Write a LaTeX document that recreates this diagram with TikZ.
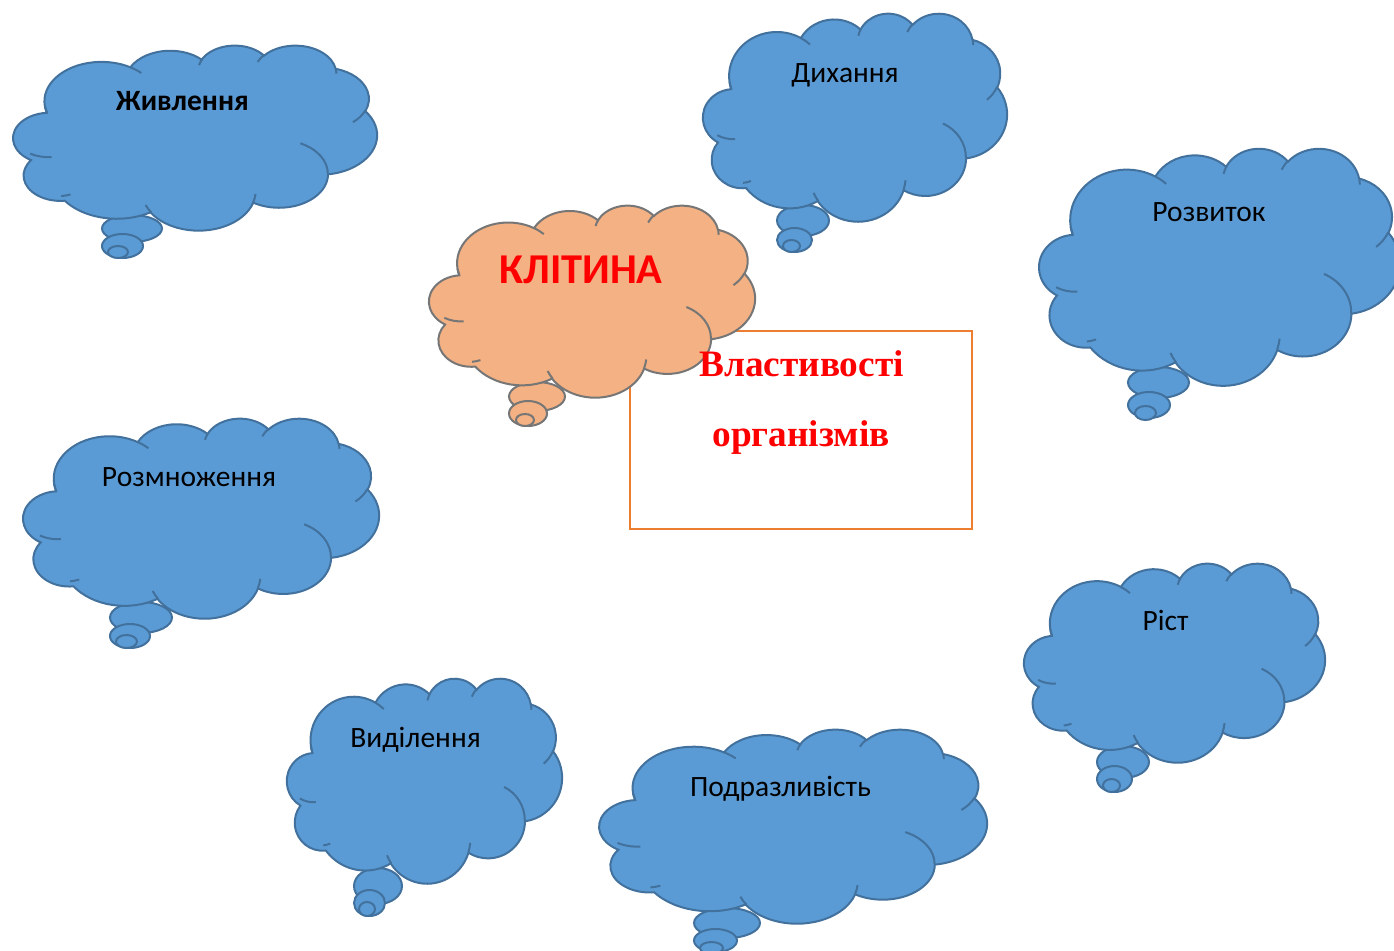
\documentclass[tikz,border=0pt]{standalone}
\usepackage{fontspec}
\setmainfont{Carlito}
\newfontfamily\tnr{Liberation Serif}
\definecolor{cfill}{HTML}{5B9BD5}
\definecolor{cline}{HTML}{41719C}
\definecolor{ofill}{HTML}{F4B183}
\definecolor{oline}{HTML}{767676}
\definecolor{boxline}{HTML}{ED7D31}
\definecolor{redtxt}{HTML}{FF0000}
\tikzset{
  carc/.style n args={4}{insert path={arc[x radius=#1, y radius=#2,
     start angle={atan2(#1*sin(#3),#2*cos(#3))},
     delta angle={mod(atan2(#1*sin(#3+#4),#2*cos(#3+#4))-atan2(#1*sin(#3),#2*cos(#3))+720,360)}]}},
  bluecloud/.style={fill=cfill, draw=cline, line width=2pt},
  orangecloud/.style={fill=ofill, draw=oline, line width=2pt},
  lbl/.style={font=\fontsize{29.5}{34}\selectfont, text=black, inner sep=0pt, anchor=base},
  redlbl/.style={inner sep=0pt, anchor=base, text=redtxt, font=\tnr\bfseries\fontsize{37.3}{44}\selectfont},
}
\newcommand\cloudbody[5]{%
  \begin{scope}[shift={(#2,#3)}, xscale={(#4-#2)/43.2}, yscale={(#5-#3)/43.2}]
    \path[#1] (3.900,14.370)
      [carc={6.753}{9.190}{-190.4875}{123.7805}]
      [carc={5.333}{7.267}{-144.1024}{89.9452}]
      [carc={4.365}{5.945}{-145.8079}{99.7230}]
      [carc={4.857}{6.595}{-130.9861}{117.2417}]
      [carc={5.333}{7.273}{-78.7089}{109.0269}]
      [carc={6.775}{9.220}{-46.2673}{130.2690}]
      [carc={5.785}{7.867}{0.6250}{114.0333}]
      [carc={6.752}{9.215}{22.4654}{116.6978}]
      [carc={7.720}{10.543}{66.2421}{68.0771}]
      [carc={4.360}{5.918}{-274.9421}{141.0549}]
      [carc={4.345}{5.945}{-246.8285}{153.6867}]
      -- cycle;
    \path[#1, fill=none]
      (4.693,26.177) [carc={4.345}{5.945}{86.7420}{26.4295}]
      (6.928,34.899) [carc={4.360}{5.918}{73.6105}{11.4475}]
      (16.478,39.090) [carc={6.752}{9.215}{137.6242}{14.0811}]
      (28.827,34.751) [carc={6.752}{9.215}{6.4533}{15.9984}]
      (34.129,22.954) [carc={5.785}{7.867}{-70.2924}{70.9174}]
      (41.798,15.354) [carc={5.333}{7.273}{30.3180}{27.7515}]
      (38.324,5.426) [carc={4.857}{6.595}{-13.7443}{14.8589}]
      (29.078,3.952) [carc={4.857}{6.595}{-149.1815}{18.1954}]
      (22.141,4.720) [carc={4.365}{5.945}{-163.4943}{17.6864}]
      (14.000,5.192) [carc={6.753}{9.190}{-66.7070}{12.3194}]
      (4.127,15.789) [carc={6.753}{9.190}{157.6544}{11.8582}];
  \end{scope}}
\newcommand\tailell[5]{%
  \path[#1] ({(#2+#4)/2},{(#3+#5)/2}) ellipse [x radius={(#4-#2)/2}, y radius={(#5-#3)/2}];}
\newcommand\fulltail[4]{\tailell{#1}#2\tailell{#1}#3\tailell{#1}#4}

\begin{document}
\begin{tikzpicture}[x=1pt,y=1pt,yscale=-1]
\useasboundingbox (0,0) rectangle (1394,950);
\fill[white] (0,0) rectangle (1394,950);

% properties box
\node[draw=boxline, line width=2pt, minimum width=342pt, minimum height=198pt, inner sep=0pt] (box) at (801,430) {};

% Живлення
\fulltail{bluecloud}{{102}{215}{162}{242}}{{102}{234}{143}{258}}{{108}{246}{128}{258}}
\cloudbody{bluecloud}{12}{45}{377}{230}
% Дихання
\fulltail{bluecloud}{{777}{205}{829}{236}}{{777}{228}{812}{252}}{{783}{240}{800}{252}}
\cloudbody{bluecloud}{702}{13}{1007}{221}
% КЛІТИНА
\fulltail{orangecloud}{{509}{382}{565}{411}}{{509}{401}{547}{426}}{{516}{414}{534}{426}}
\cloudbody{orangecloud}{428}{205}{755}{397}
% Розвиток
\fulltail{bluecloud}{{1128}{367}{1189}{398}}{{1128}{392}{1170}{418}}{{1135}{406}{1156}{420}}
\cloudbody{bluecloud}{1038}{148}{1400}{385}
% Розмноження
\fulltail{bluecloud}{{110}{602}{172}{633}}{{110}{624}{150}{648}}{{116}{635}{137}{648}}
\cloudbody{bluecloud}{22}{418}{379}{618}
% Ріст
\fulltail{bluecloud}{{1097}{746}{1149}{778}}{{1097}{766}{1132}{792}}{{1103}{779}{1120}{792}}
\cloudbody{bluecloud}{1023}{563}{1325}{762}
% Виділення
\fulltail{bluecloud}{{354}{868}{402}{904}}{{354}{890}{385}{916}}{{359}{902}{375}{916}}
\cloudbody{bluecloud}{286}{678}{562}{883}
% Подразливість
\fulltail{bluecloud}{{694}{908}{760}{938}}{{694}{929}{737}{952}}{{700}{942}{723}{954}}
\cloudbody{bluecloud}{598}{729}{987}{923}

% labels
\node[lbl, font=\fontsize{29.5}{34}\selectfont\bfseries] (zhyv) at (182.5,110) {Живлення};
\node[lbl] (dykh) at (845,82) {Дихання};
\node[lbl, font=\fontsize{42.5}{50}\selectfont\bfseries, text=redtxt] (klit) at (581,283) {КЛІТИНА};
\node[lbl] (rozv) at (1209,221) {Розвиток};
\node[lbl] (rozm) at (189,486) {Розмноження};
\node[lbl] (rist) at (1165.5,630) {Ріст};
\node[lbl] (vyd) at (415.5,747) {Виділення};
\node[lbl] (podr) at (780.5,796) {Подразливість};
\node[redlbl] (vlast) at (801.5,376) {Властивості};
\node[redlbl] (org) at (801,446) {організмів};
\end{tikzpicture}
\end{document}
